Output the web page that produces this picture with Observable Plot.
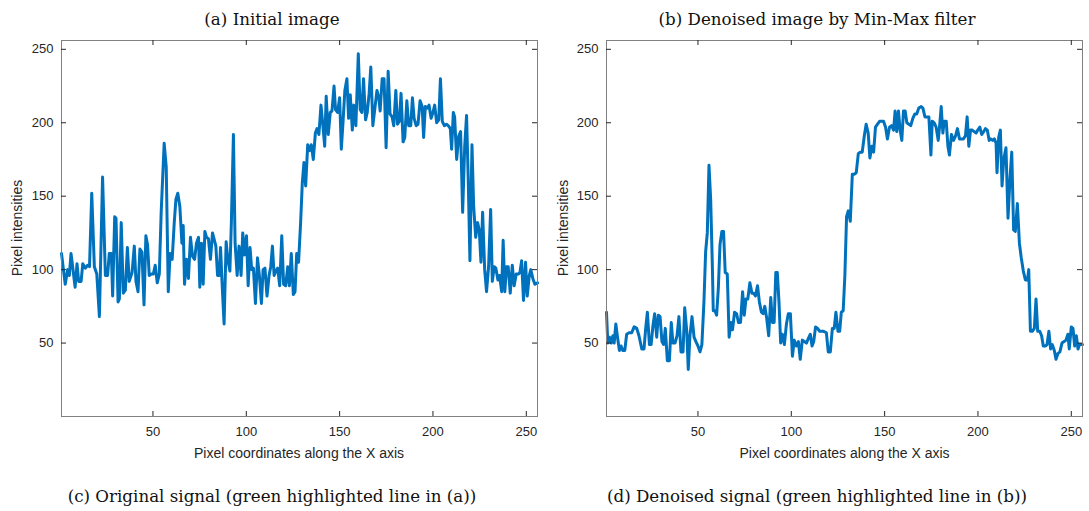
<!DOCTYPE html>
<html><head><meta charset="utf-8">
<script src="https://cdn.jsdelivr.net/npm/d3@7"></script>
<script src="https://cdn.jsdelivr.net/npm/@observablehq/plot@0.6"></script>
<style>
body{margin:0;background:#fff;width:1089px;height:511px;overflow:hidden;position:relative}
.panel{position:absolute;top:0;height:511px}
.title,.caption{position:absolute;left:0;right:0;text-align:center;font-family:"DejaVu Serif",serif;font-size:16.7px;color:#111;line-height:20px;white-space:nowrap}
.title{top:9px}
.caption{top:486px}
.plotwrap{position:absolute;top:30px;left:0}
.xlabel{position:absolute;top:444px;width:400px;margin-left:-200px;text-align:center;font-family:"Liberation Sans",Arial,sans-serif;font-size:14px;color:#262626;line-height:18px;white-space:nowrap}
.ylabel{position:absolute;width:200px;text-align:center;font-family:"Liberation Sans",Arial,sans-serif;font-size:14px;color:#262626;line-height:18px;white-space:nowrap;transform:translate(-50%,-50%) rotate(-90deg)}
</style></head>
<body>
<div class="panel" id="pa" style="left:0;width:544px">
  <div class="title">(a) Initial image</div>
  <div class="plotwrap" id="plotA"></div>
  <div class="xlabel" style="left:299px">Pixel coordinates along the X axis</div>
  <div class="ylabel" style="left:17px;top:228px">Pixel intensities</div>
  <div class="caption">(c) Original signal (green highlighted line in (a))</div>
</div>
<div class="panel" id="pb" style="left:545px;width:544px">
  <div class="title">(b) Denoised image by Min-Max filter</div>
  <div class="plotwrap" id="plotB"></div>
  <div class="xlabel" style="left:299.5px">Pixel coordinates along the X axis</div>
  <div class="ylabel" style="left:18px;top:228px">Pixel intensities</div>
  <div class="caption">(d) Denoised signal (green highlighted line in (b))</div>
</div>
<script>
const xTicks = [50, 100, 150, 200, 250];
const yTicks = [50, 100, 150, 200, 250];

// (c) original signal
const originalX = [
  1,3,4.3,5.2,6.1,8.3,9.3,10.2,11.5,12.4,13.8,15,16,17.2,18.6,19.9,21.3,23,24.5,25.7,26.6,27.7,28.4,29.5,30.2,31.3,32,33,34.1,35.2,36.3,37.3,38.8,40,40.9,42,43,44.1,45.2,46.2,47.1,48,49.1,50.2,51.2,52.3,53.4,54.4,56,57.1,58.2,59.2,60.3,61.4,62.3,63.3,64.4,65.5,66.2,66.9,68,69,70.1,71.2,72.3,73.3,74.4,75.1,76,76.9,77.8,78.7,79.7,80.8,81.9,
  83.7,84.6,85.5,86.2,87.2,88.1,89.2,90.1,91.2,92,93.1,94,95.1,96.1,97.2,98.1,99,100.1,101,102,102.9,103.8,104.9,106,107,108.1,109,110,111.1,112.2,113.1,114,114.9,115.8,116.8,117.9,119,120,121.1,122.2,123.1,124.1,125.2,126.1,127,128,129.1,130,130.9,131.8,132.9,133.8,134.8,135.9,137,137.9,138.9,140,140.9,142,142.8,143.9,145,145.9,147,147.8,148.9,150,150.9,151.8,152.8,153.9,154.8,155.7,156.8,157.6,158.7,160,161,161.9,162.8,163.9,164.8,165.8,166.7,167.8,168.9,170,171,171.7,
  172.8,173.8,174.9,176,177,178.1,179,180.1,181,182,182.9,184,184.9,186,187,188.1,189,189.9,191,192,193.1,194.2,195,195.9,197,197.9,199,200,200.9,202,203.1,204,205,206.1,207.2,208.2,209.3,210,210.9,211.6,212.7,213.8,214.8,215.9,217,218,218.9,219.8,220.9,221.8,222.9,223.9,224.8,225.7,226.6,227.7,228.7,229.8,230.9,231.8,232.8,233.7,234.8,235.7,236.8,237.6,238.5,239.4,240.3,241.4,242.5,243.5,244.6,245.7,246.6,247.5,248.5,249.6,250.5,251.6,252.4,253.5,254.6,256
];
const originalY = [
  111,90,100,96,111,88,104,92,92,104,101,103,102,152,102,97,68,163,96,96,111,111,82,136,135,78,80,132,84,86,115,92,98,116,92,85,114,112,76,123,117,96,97,97,103,91,97,139,186,170,85,111,107,132,148,152,143,118,130,90,107,94,122,109,107,118,122,88,118,90,126,122,121,107,125,
  116,96,96,115,86,63,119,107,99,132,192,118,96,116,96,125,110,123,89,115,100,101,77,108,96,77,100,101,82,96,102,116,96,99,101,89,123,90,89,102,89,111,83,85,111,105,132,159,173,157,185,181,185,175,193,196,192,212,200,184,218,192,207,208,225,209,207,217,182,200,222,230,203,219,195,212,198,247,209,207,230,202,207,220,238,198,210,222,217,208,
  230,230,183,235,206,204,198,222,199,201,220,187,190,215,198,198,217,203,198,199,215,211,190,211,210,212,203,207,212,200,202,230,201,198,199,198,196,182,207,204,175,191,194,139,184,205,161,106,185,143,122,132,127,105,139,100,85,102,141,92,102,101,93,96,85,120,85,102,102,84,103,89,97,97,98,106,79,105,82,96,100,94,90,91
];

// (d) denoised signal
const denoisedX = [
  1,1.7,2.6,3.5,4.4,5.1,6,6.9,7.9,8.8,9.7,10.8,11.8,13.1,14.5,15.8,17.2,18.4,19.9,21.1,22,22.9,24,24.9,25.9,26.8,27.9,28.8,29.7,30.7,31.6,32.5,33.6,34.7,35.7,36.6,37.7,38.8,39.8,40.9,42,42.9,44,44.8,45.7,46.8,47.9,48.9,50,51.1,52.1,53.2,54.1,55,55.9,56.8,57.7,58.2,59.1,60,60.9,61.8,62.8,63.7,64.6,65.7,66.7,67.6,68.5,69.6,70.7,71.7,72.8,73.9,74.8,75.7,76.7,77.8,78.9,79.8,80.8,81.9,82.9,
  84,84.9,85.8,86.8,87.9,89,89.9,90.8,91.7,92.5,93.4,94.3,95.2,96.3,97.4,98.4,99.5,100.6,101.6,102.7,103.8,104.8,105.9,107,108.1,109.1,110.2,111.1,112,113,114.1,115.2,116.3,117.3,118.8,119.8,120.9,122,123,123.9,125,125.9,126.8,127.8,128.7,129.6,130.5,131.6,132.7,133.7,134.8,135.9,136.9,138,139.1,140.1,141.2,142.1,143.2,144.1,145.1,146.2,147.3,148.3,149.4,150.5,151.5,152.6,153.7,154.8,155.6,156.5,157.4,158.3,159.2,160.1,161,161.9,163,164,165.1,166.2,167.2,168.3,
  169.6,170.5,171.6,172.6,173.7,174.8,175.5,176.5,177.6,178.7,179.4,180.3,181.2,181.9,183,183.9,184.7,185.8,186.9,188,189,190.1,191.2,192.2,193.3,194.2,195.1,196,196.9,197.9,199,199.9,201,202,203.1,204,205,206,206.8,207.9,208.8,209.7,210.2,211.1,212,212.9,213.8,215,216.1,217.2,218.1,219.1,220,221.1,222.2,223.2,224.3,225.4,226.5,227.2,228.1,229.1,230.2,231.1,232,233.1,234.1,235,236.1,237,238,238.9,239.8,240.9,241.8,242.9,243.9,245,246.1,247.1,248.2,248.9,250,250.9,251.8,252.7,253.6,254.4,256
];
const denoisedY = [
  71,50,54,50,55,50,63,54,45,48,45,45,56,57,57,61,60,55,46,46,60,71,49,49,62,70,54,69,68,51,49,60,38,38,64,50,50,55,68,44,44,74,58,32,55,68,54,51,48,44,49,78,112,125,171,148,103,72,72,69,87,117,126,126,98,97,54,64,59,71,70,64,64,85,69,80,80,91,84,84,82,89,78,
  71,70,75,67,55,81,64,64,98,98,78,50,56,49,63,70,70,41,52,48,51,39,52,51,50,53,56,48,51,61,60,58,58,58,57,44,44,60,60,71,58,58,71,72,96,136,140,133,165,165,166,179,180,180,191,199,193,176,184,180,197,199,201,201,201,197,189,197,198,195,208,194,208,195,188,208,208,200,199,198,203,206,206,210,
  211,210,204,204,204,178,201,200,197,188,197,211,193,201,201,184,178,192,188,191,196,189,189,189,191,204,184,195,195,194,193,195,197,192,194,196,195,188,189,188,189,186,166,190,195,157,175,183,135,163,180,127,126,145,118,108,99,93,93,100,58,58,60,80,58,58,55,48,48,49,58,46,49,45,39,43,44,50,51,52,56,46,61,60,48,55,46,49,49
];

function makePlot(xs, ys, marginRight) {
  const data = xs.map((x, i) => ({x, y: ys[i]}));
  const plotW = 476, plotH = 376;
  const xMin = 1, xMax = 256, yMin = 0, yMax = 256;
  const tickPx = 5;
  const dx = tickPx * (xMax - xMin) / plotW;
  const dy = tickPx * (yMax - yMin) / plotH;
  const tickColor = "#262626";
  return Plot.plot({
    width: 61 + plotW + marginRight,
    height: 430,
    marginTop: 10,
    marginBottom: 44,
    marginLeft: 61,
    marginRight,
    style: {fontFamily: "'Liberation Sans', Arial, sans-serif", fontSize: "13px", color: "#262626", background: "white"},
    x: {domain: [xMin, xMax]},
    y: {domain: [yMin, yMax]},
    marks: [
      Plot.line(data, {x: "x", y: "y", stroke: "#0072BD", strokeWidth: 3, strokeLinejoin: "round", strokeLinecap: "round"}),
      Plot.frame({stroke: "#808080", strokeWidth: 1}),
      Plot.ruleX(xTicks, {x: d => d, y1: yMin, y2: yMin + dy, stroke: tickColor}),
      Plot.ruleX(xTicks, {x: d => d, y1: yMax - dy, y2: yMax, stroke: tickColor}),
      Plot.ruleY(yTicks, {y: d => d, x1: xMin, x2: xMin + dx, stroke: tickColor}),
      Plot.ruleY(yTicks, {y: d => d, x1: xMax - dx, x2: xMax, stroke: tickColor}),
      Plot.axisX({ticks: xTicks, tickSize: 0, tickPadding: 10, label: null}),
      Plot.axisY({ticks: yTicks, tickSize: 0, tickPadding: 8, label: null})
    ]
  });
}

document.getElementById("plotA").appendChild(makePlot(originalX, originalY, 7));
document.getElementById("plotB").appendChild(makePlot(denoisedX, denoisedY, 6));
</script>
</body></html>
